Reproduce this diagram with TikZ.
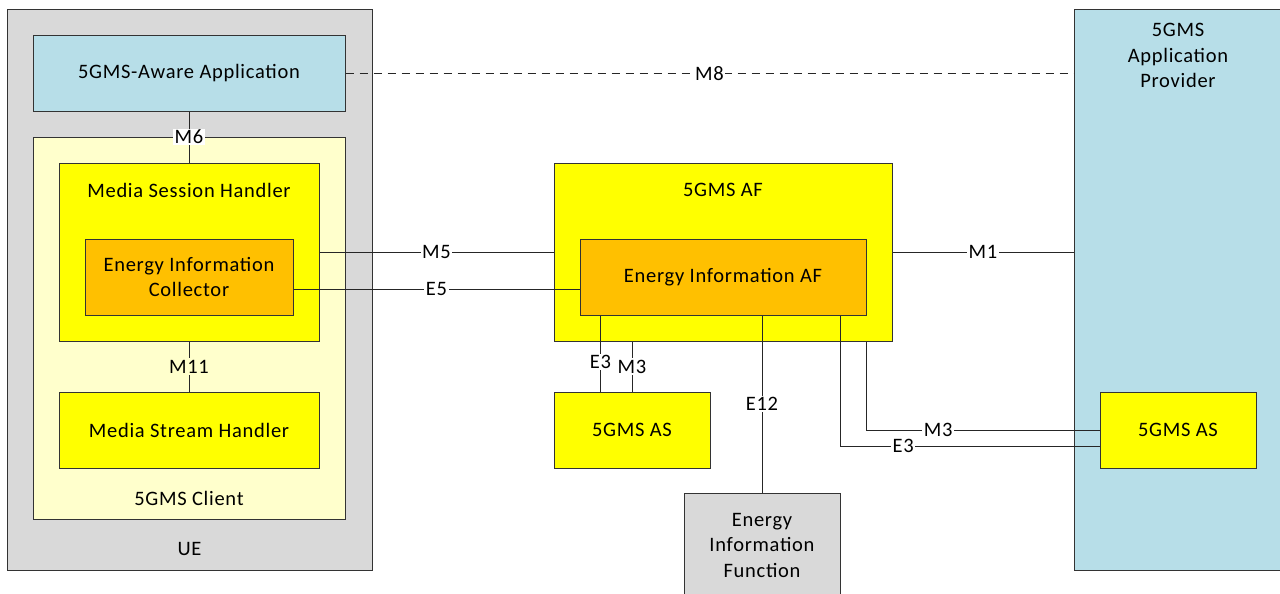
\documentclass[tikz,border=0pt]{standalone}
\usepackage{fontspec}
\setmainfont[LetterSpace=3.5]{Carlito}
\definecolor{uegray}{HTML}{D9D9D9}
\definecolor{appblue}{HTML}{B7DEE8}
\definecolor{clientyel}{HTML}{FFFFCC}
\definecolor{yel}{HTML}{FFFF00}
\definecolor{orng}{HTML}{FFC000}
\definecolor{edge}{HTML}{333333}
\begin{document}
\begin{tikzpicture}[x=1pt,y=-1pt,
  font=\fontsize{20.5}{25.5}\selectfont,
  box/.style={draw=edge, line width=1pt, rectangle, inner sep=0pt, align=center},
  conn/.style={draw=black!85, line width=1pt},
  lbl/.style={fill=white, inner sep=1.5pt, text=black}]
\useasboundingbox (0,0) rectangle (1280,594);
\clip (0,0) rectangle (1280,594);
% UE side
\node[box, fill=uegray, minimum width=365pt, minimum height=560pt] (ue) at (189.5,290) {};
\node (uelbl) at (189.5,549) {UE};
\node[box, fill=appblue, minimum width=312pt, minimum height=75pt] (app) at (189,73.5) {5GMS-Aware Application};
\node[box, fill=clientyel, minimum width=312pt, minimum height=382pt] (client) at (189,328) {};
\node (clientlbl) at (189,498) {5GMS Client};
\node[box, fill=yel, minimum width=260pt, minimum height=178pt] (msh) at (189,252) {};
\node (mshlbl) at (189,190) {Media Session Handler};
\node[box, fill=orng, minimum width=208pt, minimum height=76pt] (eic) at (189,277) {Energy Information\\Collector};
\node[box, fill=yel, minimum width=260pt, minimum height=76pt] (msth) at (189,430) {Media Stream Handler};
% AF side
\node[box, fill=yel, minimum width=338pt, minimum height=178pt] (af) at (723,252) {};
\node (aflbl) at (723,190) {5GMS AF};
\node[box, fill=orng, minimum width=286pt, minimum height=76pt] (eiaf) at (723,277) {Energy Information AF};
\node[box, fill=yel, minimum width=156pt, minimum height=76pt] (asmid) at (632,430) {5GMS AS};
\node[box, fill=uegray, minimum width=156pt, minimum height=104pt] (eif) at (762,545) {Energy\\Information\\Function};
% Provider
\node[box, fill=appblue, minimum width=208pt, minimum height=560pt] (prov) at (1178,290) {};
\node[anchor=north, align=center] (provlbl) at (1178,20) {5GMS\\Application\\Provider};
% connectors
\draw[conn, dashed, dash pattern=on 8pt off 6pt] (app.east) -- node[lbl]{M8} (prov.west |- app.east);
\draw[conn] (app.south) -- node[lbl]{M6} (msh.north);
\draw[conn] (msh.south) -- node[lbl, fill=clientyel]{M11} (msth.north);
\draw[conn] (msh.east) -- node[lbl]{M5} (af.west);
\draw[conn] ([yshift=-12pt]eic.east) -- node[lbl]{E5} ([yshift=-12pt]eiaf.west);
\draw[conn] (af.east) -- node[lbl]{M1} (prov.west |- af.east);
\draw[conn] ([xshift=21pt]eiaf.south west) -- node[lbl, pos=0.61]{E3} ([xshift=21pt]eiaf.south west |- asmid.north);
\draw[conn] (asmid.north |- af.south) -- node[lbl]{M3} (asmid.north);
\draw[conn] (eif.north |- eiaf.south) -- node[lbl]{E12} (eif.north);
\node[box, fill=yel, minimum width=156pt, minimum height=76pt] (asright) at (1178,430) {5GMS AS};
\draw[conn] (eiaf.east |- af.south) |- node[lbl, pos=0.654]{M3} (asright.west);
\draw[conn] ([xshift=-26pt]eiaf.south east) |- node[lbl, pos=0.621]{E3} ([yshift=-16pt]asright.west);
\end{tikzpicture}
\end{document}
